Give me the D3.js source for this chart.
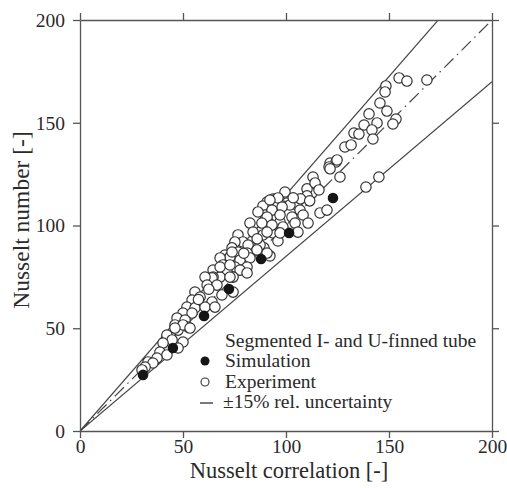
<!DOCTYPE html>
<html>
<head>
<meta charset="utf-8">
<script src="https://cdn.jsdelivr.net/npm/d3@7"></script>
<style>
  body { margin: 0; background: #fff; }
  svg { display: block; }
  text { font-family: "Liberation Serif", "Times New Roman", serif; fill: #2a2a2a; }
</style>
</head>
<body>
<svg width="507" height="488"></svg>
<script>
var width = 507;
var height = 488;
var margin = {left: 80, right: 15, top: 20, bottom: 57};

// tick values for both axes
var ticks = [0, 50, 100, 150, 200];

// simulation results (filled dots)
var simX = [30.6, 45.1, 60.2, 72.3, 87.9, 101.5, 122.8];
var simY = [27.3, 40.4, 56.0, 69.1, 83.7, 96.4, 113.4];

// experiment results (open circles)
var expX = [154.9, 158.7, 168.4, 148.5, 148.1, 145.6, 149.0, 140.3, 137.9, 144.2, 153.4, 151.9, 141.7, 133.0, 135.4, 142.2,
  128.6, 131.6, 121.4, 124.3, 120.9, 124.8, 121.4, 126.2, 113.1, 115.0, 112.6, 110.2, 116.5, 119.9, 138.8, 145.1,
  100.5, 105.3, 106.8, 114.1, 116.0, 110.2,
  93.7, 90.8, 88.8, 96.1, 98.5, 101.9, 108.3, 91.7, 95.6, 89.8, 102.9, 97.1, 104.4, 98.5, 91.3, 93.7, 88.8, 105.8,
  110.7, 96.1, 89.3, 92.2,
  99.5, 96.1, 92.2, 86.4, 93.2, 98.1, 97.1, 90.8, 82.5, 88.3, 93.2, 84.0, 90.8, 97.1, 76.7, 79.1, 75.2, 81.6, 87.4,
  85.9, 73.8, 76.7, 81.1, 90.8, 70.4, 72.8, 68.0, 77.7, 82.5, 75.2, 81.1, 69.4, 64.6, 71.4, 77.7, 81.1, 68.0, 64.6, 74.3,
  73.8, 68.0, 72.8, 64.1, 60.7, 61.7, 66.5, 72.8, 74.3, 68.9, 55.8, 58.3, 54.4, 64.1, 51.9, 55.8, 60.7, 50.0, 54.4, 65.5,
  47.1, 51.0, 46.1, 52.4, 42.2, 47.6,
  50.0, 46.1, 53.4, 42.2, 44.7, 50.0, 47.6, 40.3, 38.8, 42.2, 37.4, 33.0, 35.4, 31.6, 30.1,
  107.0, 111.5, 103.5, 86.0, 79.5, 57.5, 62.5];
var expY = [171.8, 170.3, 170.8, 167.9, 165.0, 159.6, 155.7, 154.3, 148.9, 149.9, 151.8, 149.4, 146.5, 145.0, 144.5, 142.1,
  138.2, 139.2, 130.4, 130.9, 128.5, 131.9, 127.6, 123.6, 123.6, 118.2, 115.8, 117.8, 106.1, 107.5, 118.7, 123.6,
  110.9, 110.0, 107.5, 120.7, 117.3, 114.4,
  112.9, 111.4, 109.5, 110.9, 109.5, 110.0, 105.1, 104.1, 104.1, 105.1, 104.1, 101.7, 101.2, 99.3, 99.3, 96.4, 95.4, 96.8,
  101.2, 92.5, 89.1, 85.2,
  116.3, 113.4, 112.4, 106.6, 107.5, 109.0, 105.1, 104.1, 101.2, 101.2, 100.2, 96.8, 96.8, 96.4, 95.4, 92.0, 92.0, 90.5, 90.5,
  88.1, 89.1, 87.1, 86.6, 86.6, 85.6, 84.7, 84.2, 83.2, 84.2, 79.8, 79.8, 80.8, 78.3, 77.4, 78.3, 76.9, 74.9, 74.9, 74.9,
  87.1, 79.8, 80.8, 74.5, 74.9, 71.0, 71.0, 74.9, 67.6, 66.2, 67.6, 65.2, 63.7, 62.8, 60.3, 59.9, 60.3, 57.4, 57.4, 60.3,
  55.0, 54.0, 51.6, 50.6, 45.7, 49.1,
  51.6, 50.1, 50.1, 46.7, 44.3, 43.3, 40.4, 42.8, 38.4, 37.0, 35.5, 33.6, 33.1, 31.1, 29.7,
  113.0, 112.0, 113.5, 93.5, 86.5, 64.0, 69.0];

// lines: y = k * x
var lineFactors = [1.15, 1, 0.85];

var legendLabels = ["Segmented I- and U-finned tube", "Simulation", "Experiment", "\u00b115% rel. uncertainty"];

var svg = d3.select('svg');

var xScale = d3.scaleLinear().domain([0, 200]).range([80, 492]);
var yScale = d3.scaleLinear().domain([0, 200]).range([431, 20]);

var simData = simX.map(function (x, i) { return {x: x, y: simY[i]}; });
var expData = expX.map(function (x, i) { return {x: x, y: expY[i]}; });

var axisColor = "#555";

// reference lines, clipped to the plot area
svg.append("clipPath").attr("id", "plot")
  .append("rect")
  .attr("x", xScale(0)).attr("y", yScale(200))
  .attr("width", xScale(200) - xScale(0))
  .attr("height", yScale(0) - yScale(200));

var lineG = svg.append("g").attr("clip-path", "url(#plot)");
lineFactors.forEach(function (k) {
  lineG.append("line")
    .attr("x1", xScale(0)).attr("y1", yScale(0))
    .attr("x2", xScale(200)).attr("y2", yScale(200 * k))
    .attr("stroke", "#444")
    .attr("stroke-width", 1.2)
    .attr("stroke-dasharray", k === 1 ? "13,5,1.5,5" : null);
});

// experiment
svg.append("g").selectAll("circle")
  .data(expData)
  .enter()
  .append("circle")
  .attr("cx", function (d) { return xScale(d.x); })
  .attr("cy", function (d) { return yScale(d.y); })
  .attr("r", 5.2)
  .attr("fill", "#fff")
  .attr("stroke", "#333")
  .attr("stroke-width", 1.2);

// simulation
svg.append("g").selectAll("circle")
  .data(simData)
  .enter()
  .append("circle")
  .attr("cx", function (d) { return xScale(d.x); })
  .attr("cy", function (d) { return yScale(d.y); })
  .attr("r", 5.3)
  .attr("fill", "#151515");

// axes on all four sides, ticks outward
function styleAxis(g) {
  g.selectAll("path, line").attr("stroke", axisColor).attr("stroke-width", 1.3);
  g.selectAll("text")
    .style("font-family", '"Liberation Serif", serif')
    .style("font-size", "19.5px")
    .attr("fill", "#2a2a2a");
}

svg.append("g")
  .attr("transform", "translate(0," + yScale(0) + ")")
  .call(d3.axisBottom(xScale).tickValues(ticks).tickSize(7).tickSizeOuter(0).tickPadding(1))
  .call(styleAxis);

svg.append("g")
  .attr("transform", "translate(" + xScale(0) + ",0)")
  .call(d3.axisLeft(yScale).tickValues(ticks).tickSize(7).tickSizeOuter(0).tickPadding(8))
  .call(styleAxis);

svg.append("g")
  .attr("transform", "translate(0," + yScale(200) + ")")
  .call(d3.axisTop(xScale).tickValues(ticks).tickSize(7).tickSizeOuter(0).tickFormat(""))
  .call(styleAxis);

svg.append("g")
  .attr("transform", "translate(" + xScale(200) + ",0)")
  .call(d3.axisRight(yScale).tickValues(ticks).tickSize(7).tickSizeOuter(0).tickFormat(""))
  .call(styleAxis);

// axis titles
svg.append("text")
  .attr("x", 289)
  .attr("y", 478)
  .style("text-anchor", "middle")
  .style("font-size", "22.5px")
  .text("Nusselt correlation [-]");

svg.append("text")
  .attr("transform", "rotate(-90)")
  .attr("x", -220)
  .attr("y", 29)
  .style("text-anchor", "middle")
  .style("font-size", "23.5px")
  .text("Nusselt number [-]");

// legend
var legend = svg.append("g");
var legendY = [347, 367, 388, 408];
legendLabels.forEach(function (label, i) {
  legend.append("text")
    .attr("x", i === 3 ? 223 : 225)
    .attr("y", legendY[i])
    .style("font-size", "19.5px")
    .text(label);
});
legend.append("circle").attr("cx", 205).attr("cy", 361).attr("r", 4.5).attr("fill", "#151515");
legend.append("circle").attr("cx", 205).attr("cy", 382).attr("r", 4).attr("fill", "#fff")
  .attr("stroke", "#333").attr("stroke-width", 1.1);
legend.append("line").attr("x1", 200).attr("x2", 213).attr("y1", 403).attr("y2", 403)
  .attr("stroke", "#333").attr("stroke-width", 1.3);
</script>
</body>
</html>
